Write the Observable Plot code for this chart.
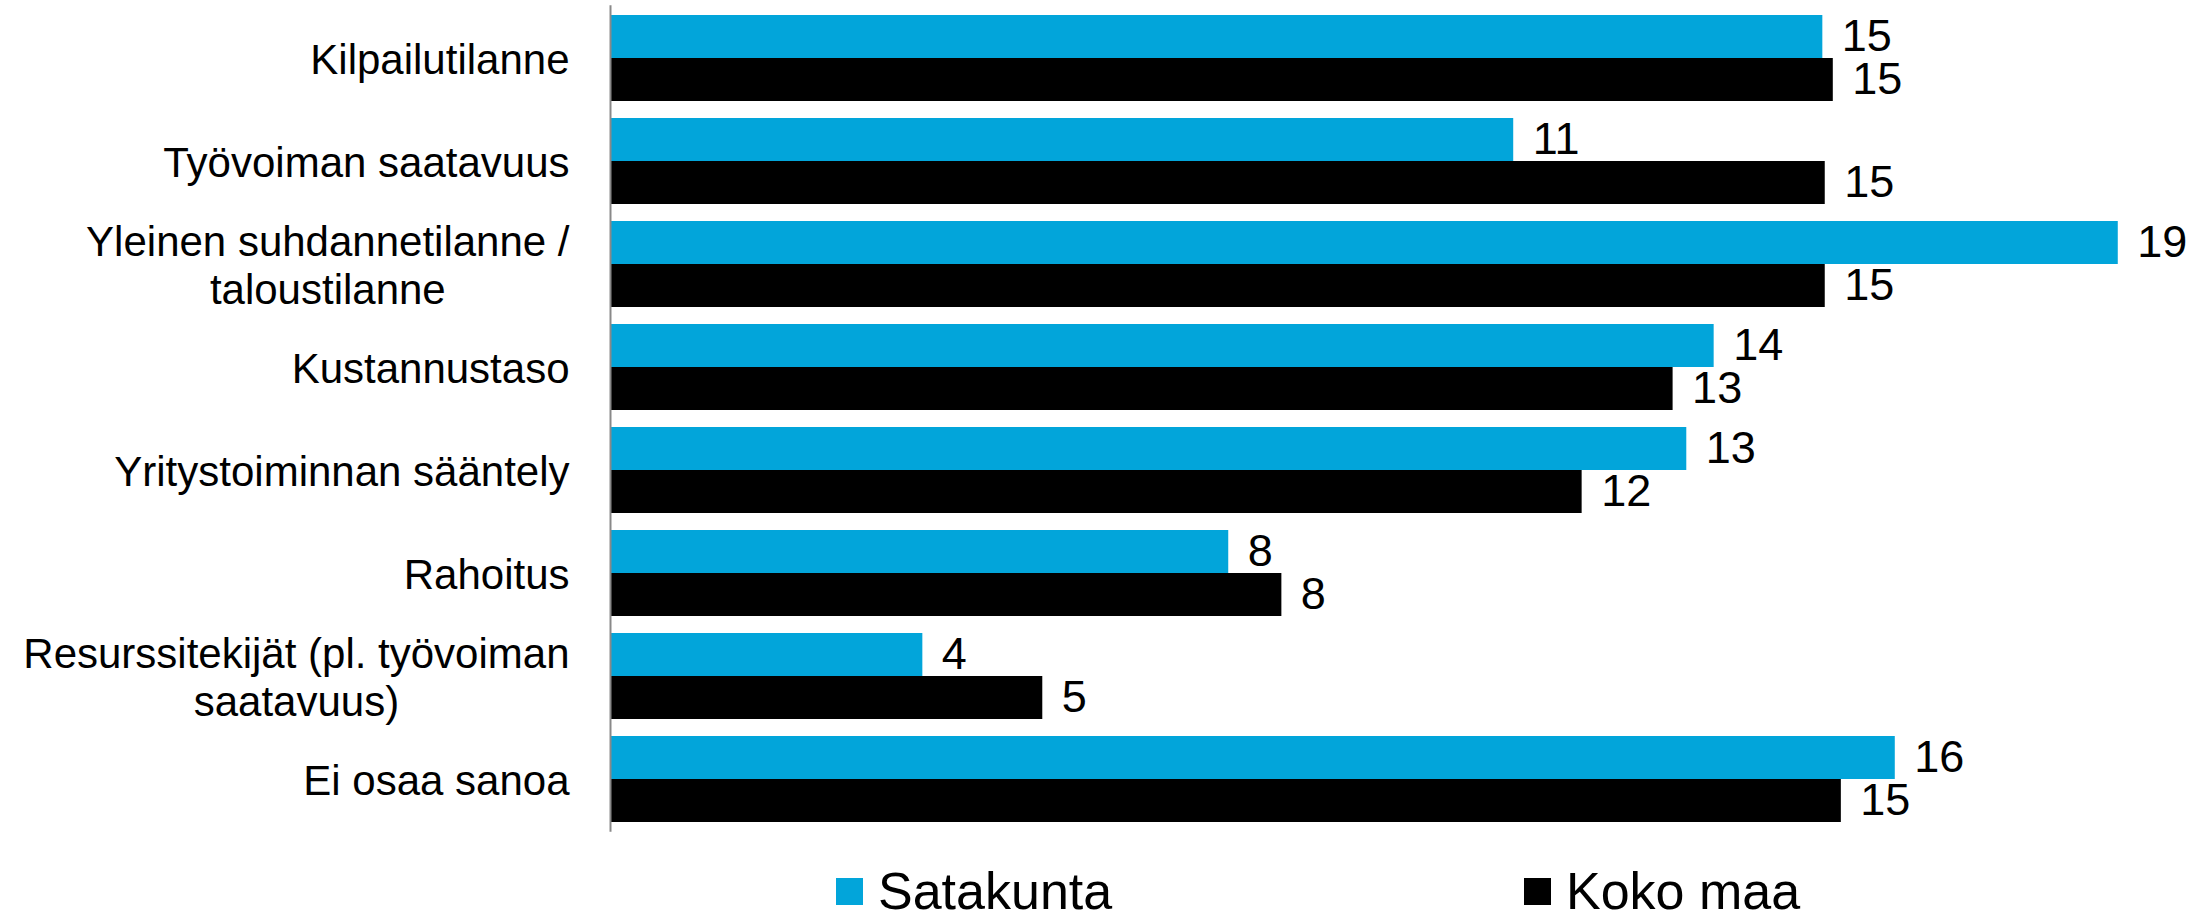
<!DOCTYPE html>
<html>
<head>
<meta charset="utf-8">
<script src="https://cdn.jsdelivr.net/npm/d3@7"></script>
<script src="https://cdn.jsdelivr.net/npm/@observablehq/plot@0.6"></script>
<style>
  html, body { margin: 0; padding: 0; background: #fff; }
  #wrap { position: relative; width: 2208px; height: 919px; overflow: hidden; font-family: "Liberation Sans", Arial, sans-serif; }
  .leg { position: absolute; top: 865px; display: flex; align-items: center; font-size: 52px; line-height: 52px; color: #000; }
  .sw { width: 27px; height: 27px; margin-right: 15px; }
</style>
</head>
<body>
<div id="wrap"></div>
<script>
const categories = [
  "Kilpailutilanne",
  "Työvoiman saatavuus",
  "Yleinen suhdannetilanne /\ntaloustilanne",
  "Kustannustaso",
  "Yritystoiminnan sääntely",
  "Rahoitus",
  "Resurssitekijät (pl. työvoiman\nsaatavuus)",
  "Ei osaa sanoa"
];
const seriesNames = ["Satakunta", "Koko maa"];
const seriesColors = ["#02A5DA", "#000000"];
const satakunta = [15.06, 11.22, 18.73, 13.71, 13.37, 7.68, 3.88, 15.96];
const kokoMaa   = [15.19, 15.09, 15.09, 13.20, 12.07, 8.34, 5.37, 15.29];
const satakuntaLabels = ["15", "11", "19", "14", "13", "8", "4", "16"];
const kokoMaaLabels   = ["15", "15", "15", "13", "12", "8", "5", "15"];

const dataS = categories.map((c, i) => ({cat: c, value: satakunta[i], label: satakuntaLabels[i]}));
const dataK = categories.map((c, i) => ({cat: c, value: kokoMaa[i], label: kokoMaaLabels[i]}));

const half = 43;
const chart = Plot.plot({
  width: 2208,
  height: 845,
  marginLeft: 610,
  marginRight: 28.25,
  marginTop: 5.35,
  marginBottom: 13.3,
  style: {fontFamily: "'Liberation Sans', Arial, sans-serif", background: "#fff", overflow: "visible"},
  x: {domain: [0, 19.5], axis: null},
  y: {domain: categories, paddingInner: 0.1675, paddingOuter: 0.0837, align: 0.5, label: null},
  marks: [
    Plot.axisY({tickSize: 0, tickPadding: 41, fontSize: 42, lineHeight: 1.15, fill: "#000", label: null}),
    Plot.barX(dataS, {x: "value", y: "cat", fill: seriesColors[0], insetBottom: half}),
    Plot.barX(dataK, {x: "value", y: "cat", fill: seriesColors[1], insetTop: half}),
    Plot.text(dataS, {x: "value", y: "cat", text: "label", dy: -half / 2, dx: 19, textAnchor: "start", fontSize: 45, fill: "#000"}),
    Plot.text(dataK, {x: "value", y: "cat", text: "label", dy: half / 2, dx: 19, textAnchor: "start", fontSize: 45, fill: "#000"}),
    Plot.ruleX([0], {stroke: "#898989", strokeWidth: 2})
  ]
});

const wrap = document.getElementById("wrap");
wrap.appendChild(chart);

// Center the lines of multi-line category labels within their block (right edge kept)
chart.querySelectorAll("text").forEach(t => {
  const spans = t.querySelectorAll("tspan");
  if (spans.length > 1) {
    let maxW = 0;
    spans.forEach(s => { maxW = Math.max(maxW, s.getComputedTextLength()); });
    t.setAttribute("text-anchor", "middle");
    spans.forEach(s => s.setAttribute("x", (parseFloat(s.getAttribute("x") || 0) - maxW / 2)));
  }
});

// Legend below the chart
const legendLeft = [836, 1524];
seriesNames.forEach((name, i) => {
  const item = document.createElement("div");
  item.className = "leg";
  item.style.left = legendLeft[i] + "px";
  const sw = document.createElement("span");
  sw.className = "sw";
  sw.style.background = seriesColors[i];
  const tx = document.createElement("span");
  tx.textContent = name;
  item.appendChild(sw);
  item.appendChild(tx);
  wrap.appendChild(item);
});
</script>
</body>
</html>
